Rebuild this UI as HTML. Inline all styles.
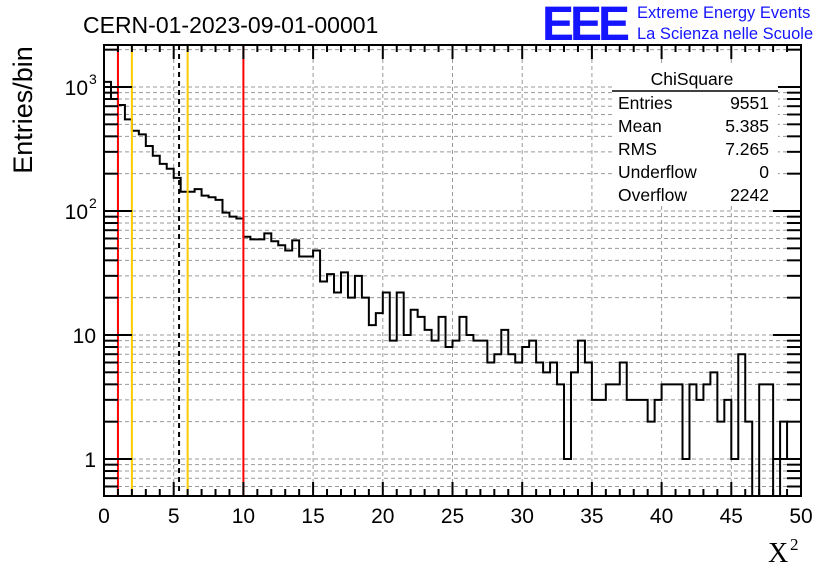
<!DOCTYPE html>
<html><head><meta charset="utf-8"><style>
body{margin:0;background:#fff;}
svg{display:block;font-family:"Liberation Sans",sans-serif;}
</style></head><body>
<svg id="c" width="836" height="572"></svg>
<script>
const values=[1100,800,716,548,444,415,334,279,240,219,185,143,143,150,133,129,123,97,90,87,
62,59,59,66,57,53,48,58,43,43,48,27,31,22,32,20,30,20,12,15,
22,9,22,10,16,14,11,9,14,8,9,14,10,9,9,6,7,11,7,6,
8,9,6,5,6,4,1,5,9,6,3,3,4,4,6,3,3,3,2,3,
4,4,4,1,4,3,4,5,2,3,1,7,2,0,4,4,0,2,1,1];
const binWidth=0.5;
const xTicks=[0,5,10,15,20,25,30,35,40,45,50];
const yTicks=[1,10,100,1000];
const yTickLabels=["1","10","10","10"];
const yTickExp=["","","2","3"];
const redCuts=[1,10];
const yellowCuts=[2,6];
const meanVal=5.385;
const statsNames=["Entries","Mean","RMS","Underflow","Overflow"];
const statsValues=["9551","5.385","7.265","0","2242"];

const L=104,R=801,T=45,B=496;
const X=v=>L+(v/50)*(R-L);
const Y=v=>459-124*Math.log10(v);
const ns="http://www.w3.org/2000/svg";
const svg=document.getElementById('c');
function mk(t,a,p){const e=document.createElementNS(ns,t);for(const k in a)e.setAttribute(k,a[k]);(p||svg).appendChild(e);return e;}

const grid=mk('g',{});


xTicks.forEach(t=>{if(t>0&&t<50)mk('line',{x1:X(t),x2:X(t),y1:T,y2:B,stroke:'#999','stroke-dasharray':'4,3','stroke-width':1},grid);});
for(let d=0.1;d<=1000;d*=10){for(let m=1;m<10;m++){const v=d*m;const y=Y(v);if(y>T&&y<B)mk('line',{x1:L,x2:R,y1:y,y2:y,stroke:'#999','stroke-dasharray':'4,3','stroke-width':1},grid);}}

let d='M'+L+','+B;
values.forEach((v,i)=>{const y=v>0?Math.min(Y(v),B):B;d+=' L'+X(i*binWidth)+','+y+' L'+X((i+1)*binWidth)+','+y;});
d+=' L'+R+','+B;
const h=mk('path',{d:d,fill:'none',stroke:'#000','stroke-width':2});



redCuts.forEach(c=>{const l=mk('line',{x1:X(c),x2:X(c),y1:T,y2:B,stroke:'#f00','stroke-width':2});

});
yellowCuts.forEach(c=>{const l=mk('line',{x1:X(c),x2:X(c),y1:T,y2:B,stroke:'#fc0','stroke-width':2});

});
const ml=mk('line',{x1:X(meanVal),x2:X(meanVal),y1:T,y2:B,stroke:'#000','stroke-width':2,'stroke-dasharray':'5,4'});



const fr=mk('rect',{x:L,y:T,width:R-L,height:B-T,fill:'none',stroke:'#000','stroke-width':2});



const xa=mk('g',{});


for(let v=0;v<=50;v+=1){const big=v%5==0;const x=X(v);
mk('line',{x1:x,x2:x,y1:B,y2:B-(big?14:7),stroke:'#000','stroke-width':2},xa);
mk('line',{x1:x,x2:x,y1:T,y2:T+(big?14:7),stroke:'#000','stroke-width':2},xa);}
xTicks.forEach(t=>{const e=mk('text',{x:X(t),y:523,'font-size':21,'text-anchor':'middle'},xa);e.textContent=t;});
const ya=mk('g',{});


for(let dd=0.1;dd<=1000;dd*=10){for(let m=1;m<10;m++){const v=dd*m;const y=Y(v);if(y>=T&&y<=B){const big=m==1;
mk('line',{x1:L,x2:L+(big?28:14),y1:y,y2:y,stroke:'#000','stroke-width':2},ya);
mk('line',{x1:R,x2:R-(big?28:14),y1:y,y2:y,stroke:'#000','stroke-width':2},ya);}}}
yTicks.forEach((t,i)=>{const y=Y(t);
if(yTickExp[i]){const e=mk('text',{x:88,y:y+8,'font-size':21,'text-anchor':'end'},ya);e.textContent=yTickLabels[i];
const s=mk('text',{x:89,y:y-3,'font-size':14},ya);s.textContent=yTickExp[i];}
else{const e=mk('text',{x:96,y:y+8,'font-size':21,'text-anchor':'end'},ya);e.textContent=yTickLabels[i];}});
</script>
<script>
(function(){
const svg=document.getElementById('c');const ns="http://www.w3.org/2000/svg";
function mk(t,a,p){const e=document.createElementNS(ns,t);for(const k in a)e.setAttribute(k,a[k]);(p||svg).appendChild(e);return e;}
const ti=mk('text',{x:83,y:33,'font-size':23});ti.textContent='CERN-01-2023-09-01-00001';


const yl=mk('text',{x:0,y:0,'font-size':27,'text-anchor':'middle',transform:'translate(32,110) rotate(-90)'});yl.textContent='Entries/bin';


const xl=mk('text',{x:768,y:562,'font-size':28,'font-family':'Liberation Serif, serif'});xl.textContent='X';


const xs=mk('text',{x:790,y:550,'font-size':17,'font-family':'Liberation Serif, serif'});xs.textContent='2';
const logo=mk('text',{x:542,y:40,'font-size':48,'font-weight':'bold',fill:'#1414ff','letter-spacing':'-4'});logo.textContent='EEE';


const l1=mk('text',{x:637,y:18,'font-size':16.5,fill:'#1414ff'});l1.textContent='Extreme Energy Events';
const l2=mk('text',{x:637,y:39,'font-size':16.5,fill:'#1414ff'});l2.textContent='La Scienza nelle Scuole';
const sb=mk('g',{});


mk('rect',{x:612,y:66,width:166,height:140,fill:'#fff'},sb);
const h=mk('text',{x:692,y:85,'font-size':17.5,'text-anchor':'middle'},sb);h.textContent='ChiSquare';
mk('line',{x1:612,x2:778,y1:91,y2:91,stroke:'#000','stroke-width':1.5},sb);
statsNames.forEach((n,i)=>{const y=109+i*23;
const a=mk('text',{x:618,y:y,'font-size':17.5},sb);a.textContent=n;
const b=mk('text',{x:769,y:y,'font-size':17.5,'text-anchor':'end'},sb);b.textContent=statsValues[i];});
})();
</script>
</body></html>
